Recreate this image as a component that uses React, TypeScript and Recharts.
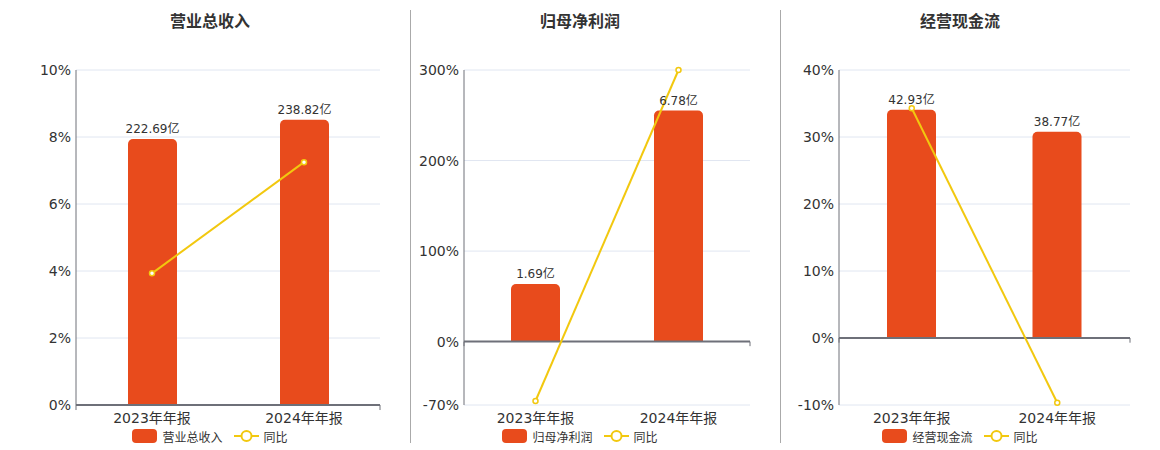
import React from "react";
import {
  ComposedChart,
  Bar,
  Line,
  XAxis,
  YAxis,
  CartesianGrid,
  ReferenceLine,
  LabelList,
} from "recharts";

const categories = ["2023年年报", "2024年年报"];

const revenueValues = [222.69, 238.82];
const revenueYoY = [3.93, 7.25];
const revenueTicks = [0, 2, 4, 6, 8, 10];

const profitValues = [1.69, 6.78];
const profitYoY = [-65.6, 300];
const profitTicks = [-70, 0, 100, 200, 300];

const cashValues = [42.93, 38.77];
const cashYoY = [34.3, -9.66];
const cashTicks = [-10, 0, 10, 20, 30, 40];

const BAR_COLOR = "#E84B1C";
const LINE_COLOR = "#F2C80F";
const AXIS_COLOR = "#6E7079";
const FONT = "'DejaVu Sans', 'Noto Sans CJK SC', sans-serif";

type PanelProps = {
  title: string;
  left: number;
  width: number;
  plotLeft: number;
  titleCenter: number;
  values: number[];
  yoy: number[];
  ticks: number[];
  barDomain: [number, number];
  tickLen: number;
};

function Panel(p: PanelProps) {
  const data = categories.map((c, i) => ({
    name: c,
    value: p.values[i],
    yoy: p.yoy[i],
  }));
  const yMin = p.ticks[0];
  const yMax = p.ticks[p.ticks.length - 1];
  const yAxisWidth = p.plotLeft;
  return (
    <div style={{ position: "absolute", left: p.left, top: 0, width: p.width, height: 450 }}>
      <div
        style={{
          position: "absolute",
          left: p.titleCenter - p.left - 100,
          width: 200,
          top: 12,
          textAlign: "center",
          fontSize: 16,
          fontWeight: "bold",
          color: "#333",
          lineHeight: "20px",
        }}
      >
        {p.title}
      </div>
      <ComposedChart
        width={p.width}
        height={450}
        data={data}
        margin={{ top: 70, right: 30, bottom: 15, left: 0 }}
      >
        <CartesianGrid vertical={false} stroke="#E0E6F1" xAxisId="cat" yAxisId="left" />
        <XAxis
          xAxisId="cat"
          dataKey="name"
          axisLine={false}
          tickLine={false}
          tickSize={0}
          tickMargin={8}
          height={30}
          interval={0}
          tick={{ fontSize: 14, fill: "#333", fontFamily: FONT }}
        />
        <XAxis xAxisId="num" type="number" domain={[0, 2]} hide />
        <YAxis
          yAxisId="left"
          domain={[yMin, yMax]}
          ticks={p.ticks}
          width={yAxisWidth}
          axisLine={{ stroke: AXIS_COLOR }}
          tickLine={false}
          tickSize={0}
          tickMargin={5}
          tickFormatter={(v: number) => `${v}%`}
          tick={{ fontSize: 14, fill: "#333", fontFamily: FONT }}
        />
        <YAxis yAxisId="bar" orientation="right" domain={p.barDomain} allowDataOverflow hide />
        <Bar
          xAxisId="cat"
          yAxisId="bar"
          dataKey="value"
          fill={BAR_COLOR}
          barSize={49}
          radius={[5, 5, 0, 0]}
          isAnimationActive={false}
        >
          <LabelList
            dataKey="value"
            position="top"
            offset={6}
            formatter={(v: number) => `${v}亿`}
            style={{ fontSize: 12, fill: "#333", fontFamily: FONT }}
          />
        </Bar>
        <ReferenceLine xAxisId="num" yAxisId="left" y={0} stroke={AXIS_COLOR} strokeWidth={2} ifOverflow="visible" />
        {[0, 1, 2].map((x) => (
          <ReferenceLine
            key={x}
            xAxisId="num"
            yAxisId="left"
            segment={[
              { x, y: 0 },
              { x, y: -p.tickLen },
            ]}
            stroke={AXIS_COLOR}
            strokeWidth={1}
            ifOverflow="visible"
          />
        ))}
        <Line
          xAxisId="cat"
          yAxisId="left"
          dataKey="yoy"
          stroke={LINE_COLOR}
          strokeWidth={2}
          dot={{ r: 2.5, stroke: LINE_COLOR, strokeWidth: 1.5, fill: "#fff" }}
          isAnimationActive={false}
        />
      </ComposedChart>
      <div
        style={{
          position: "absolute",
          left: p.titleCenter - p.left - 150,
          width: 300,
          top: 429,
          display: "flex",
          justifyContent: "center",
          alignItems: "center",
          fontSize: 12,
          color: "#333",
          fontFamily: FONT,
          height: 14,
        }}
      >
        <div style={{ width: 25, height: 14, borderRadius: 4, background: BAR_COLOR }} />
        <span style={{ marginLeft: 5, marginRight: 11 }}>{p.title}</span>
        <svg width={25} height={14}>
          <line x1={0} y1={7} x2={25} y2={7} stroke={LINE_COLOR} strokeWidth={2} />
          <circle cx={12.5} cy={7} r={5} stroke={LINE_COLOR} strokeWidth={2} fill="#fff" />
        </svg>
        <span style={{ marginLeft: 5 }}>同比</span>
      </div>
    </div>
  );
}

export default function App() {
  return (
    <div
      style={{
        position: "fixed",
        left: 0,
        top: 0,
        width: 1160,
        height: 450,
        background: "#fff",
        fontFamily: FONT,
      }}
    >
      <Panel
        title="营业总收入"
        left={0}
        width={410}
        plotLeft={76}
        titleCenter={210}
        values={revenueValues}
        yoy={revenueYoY}
        ticks={revenueTicks}
        barDomain={[0, 280.5]}
        tickLen={0.15}
      />
      <div style={{ position: "absolute", left: 410, top: 10, width: 1, height: 433, background: "#aaa" }} />
      <Panel
        title="归母净利润"
        left={411}
        width={369}
        plotLeft={53}
        titleCenter={580}
        values={profitValues}
        yoy={profitYoY}
        ticks={profitTicks}
        barDomain={[-1.86, 7.97]}
        tickLen={5}
      />
      <div style={{ position: "absolute", left: 780, top: 10, width: 1, height: 433, background: "#aaa" }} />
      <Panel
        title="经营现金流"
        left={781}
        width={379}
        plotLeft={58}
        titleCenter={960}
        values={cashValues}
        yoy={cashYoY}
        ticks={cashTicks}
        barDomain={[-12.6, 50.4]}
        tickLen={0.7}
      />
    </div>
  );
}
